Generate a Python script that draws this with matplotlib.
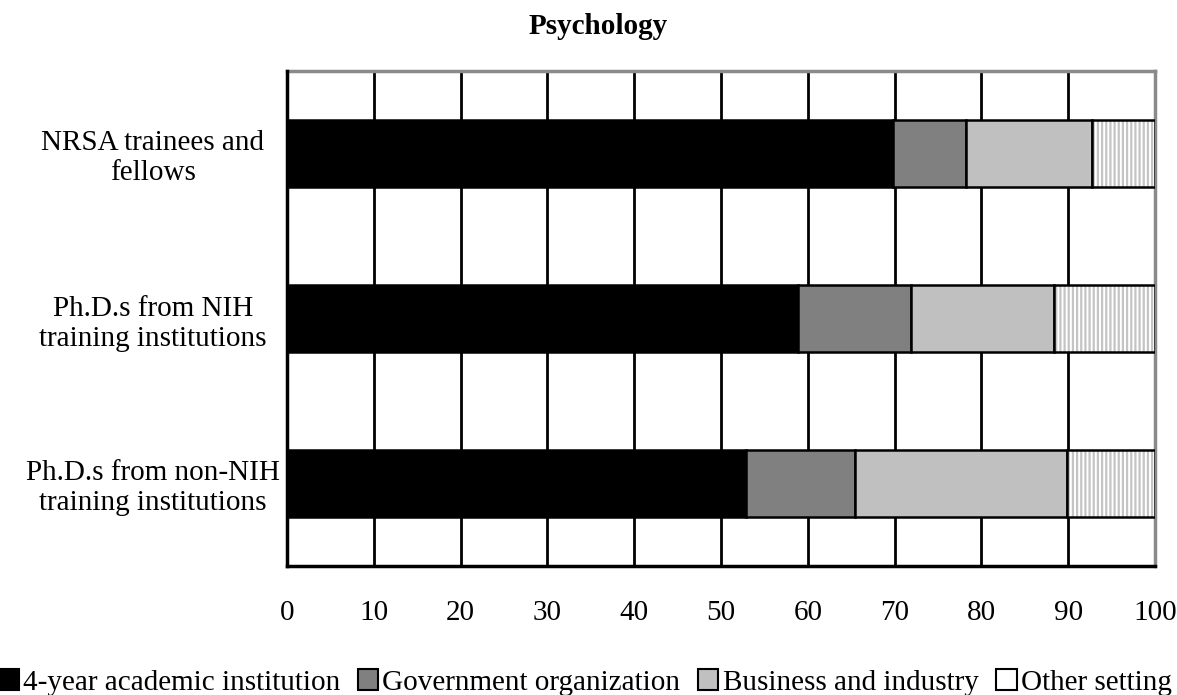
import matplotlib
matplotlib.use("Agg")
import matplotlib.pyplot as plt
from matplotlib.patches import Patch
import numpy as np

categories = ["NRSA trainees and\nfellows",
              "Ph.D.s from NIH\ntraining institutions",
              "Ph.D.s from non-NIH\ntraining institutions"]
academic = [69.8, 58.9, 52.9]
government = [8.4, 13.0, 12.5]
business = [14.5, 16.5, 24.5]
other = [7.3, 11.6, 10.1]
series_names = ["4-year academic institution", "Government organization",
                "Business and industry", "Other setting"]
xticks = list(range(0, 101, 10))

plt.rcParams['font.family'] = ['Liberation Serif', 'DejaVu Serif']
plt.rcParams['hatch.linewidth'] = 1.6

fig = plt.figure(figsize=(11.77, 6.95), dpi=100)
ax = fig.add_axes([287/1177, 1-566/695, (1155-287)/1177, (566-71)/695])

y = np.arange(len(categories))
h = 0.41
left = np.zeros(len(categories))
colors = ["#000000", "#808080", "#c0c0c0", "#ffffff"]
for vals, col, name in zip([academic, government, business, other], colors, series_names):
    vals = np.array(vals)
    if name == "Other setting":
        ax.barh(y, vals, left=left, height=h, color="white", edgecolor="#c4c4c4",
                hatch="||||", linewidth=0, zorder=3)
        ax.barh(y, vals, left=left, height=h, fill=False, edgecolor="black",
                linewidth=1.8, zorder=4)
    else:
        ax.barh(y, vals, left=left, height=h, color=col, edgecolor="black",
                linewidth=1.8, zorder=3)
    left = left + vals

ax.set_xlim(0, 100)
ax.set_ylim(2.5, -0.5)
ax.set_xticks(xticks)
ax.set_xticklabels([str(t) for t in xticks], fontsize=21)
ax.set_yticks(y)
ax.set_yticklabels(categories, fontsize=21, ha="center", multialignment="center")
ax.tick_params(axis="y", length=0, pad=96.5)
ax.tick_params(axis="x", length=0, pad=24.5)
ax.xaxis.grid(True, color="black", linewidth=2)
ax.set_axisbelow(True)
for s in ["left", "bottom"]:
    ax.spines[s].set_color("black")
    ax.spines[s].set_linewidth(2.5)
    ax.spines[s].set_zorder(5)
for s in ["top", "right"]:
    ax.spines[s].set_color("#8a8a8a")
    ax.spines[s].set_linewidth(2.5)

fig.text(598/1177, 1-27/695, "Psychology", fontsize=21, fontweight="bold",
         ha="center", va="center")

handles = [Patch(facecolor=c, edgecolor="black", linewidth=1.5) for c in colors]
fig.legend(handles, series_names, loc="lower center", bbox_to_anchor=(0.497, -0.022),
           ncol=4, frameon=False, fontsize=21, handlelength=0.7, handleheight=0.7,
           handletextpad=0.15, columnspacing=0.6, borderaxespad=0.1)

fig.savefig("out.png", dpi=100)
